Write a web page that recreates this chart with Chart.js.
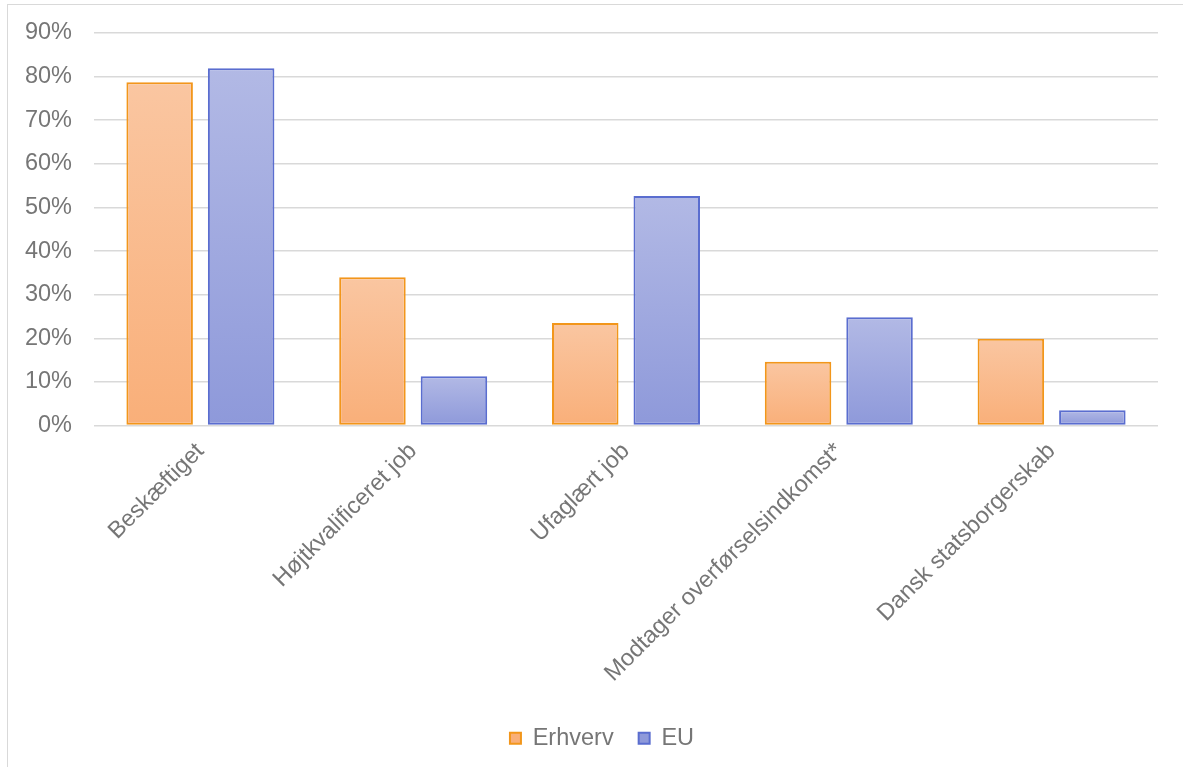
<!DOCTYPE html>
<html>
<head>
<meta charset="utf-8">
<script src="https://cdn.jsdelivr.net/npm/chart.js@4/dist/chart.umd.min.js"></script>
<style>
    html, body { margin: 0; padding: 0; background: #fff; }
    #wrap { position: relative; width: 1183px; height: 767px; overflow: hidden; }
    #frame {
        position: absolute; left: 7px; top: 4px; width: 1300px; height: 900px;
        border: 1px solid #d9d9d9; pointer-events: none;
    }
</style>
</head>
<body>
<div id="wrap">
    <canvas id="chart" width="1183" height="767"></canvas>
    <div id="frame"></div>
</div>
<script>
/*
  Erhverv vs EU – andele
*/

const categories = [
    "Beskæftiget",
    "Højtkvalificeret job",
    "Ufaglært job",
    "Modtager overførselsindkomst*",
    "Dansk statsborgerskab"
]

const erhvervValues = [0.787, 0.340, 0.235, 0.146, 0.199]

const euValues = [0.819, 0.113, 0.526, 0.248, 0.035]

const yTicks = [0, 0.1, 0.2, 0.3, 0.4, 0.5, 0.6, 0.7, 0.8, 0.9]

function barGradient(topColor, bottomColor, solid) {

    return (ctx) => {

        const chart = ctx.chart

        if (ctx.type !== "data" || !chart.scales || !chart.scales.y) {
            return solid
        }

        const y = chart.scales.y
        const top = y.getPixelForValue(ctx.parsed.y)
        const base = y.getPixelForValue(0)

        if (!isFinite(top) || !isFinite(base) || top === base) {
            return solid
        }

        const g = chart.ctx.createLinearGradient(0, top, 0, base)
        g.addColorStop(0, topColor)
        g.addColorStop(1, bottomColor)
        return g
    }
}

// legend sits centred under the plot area, not the whole canvas
const legendShift = {
    id: "legendShift",
    afterUpdate(chart) {
        const legend = chart.legend
        if (!legend) {
            return
        }
        legend.left += 23
        legend.right += 23
        legend.adjustHitBoxes()
    }
}

const font = { family: "'Liberation Sans', Arial, sans-serif", size: 23.5 }
const textColor = "#767676"

new Chart(document.getElementById("chart"), {

    type: "bar",

    data: {
        labels: categories,
        datasets: [
            {
                label: "Erhverv",
                data: erhvervValues,
                borderColor: "#F2961B",
                borderWidth: 2,
                borderSkipped: false,
                backgroundColor: barGradient("#FAC6A1", "#F9AF79", "#FAC3A0")
            },
            {
                label: "EU",
                data: euValues,
                borderColor: "#5A6DCF",
                borderWidth: 2,
                borderSkipped: false,
                backgroundColor: barGradient("#B2B9E5", "#8E99DA", "#A6AEE2")
            }
        ]
    },

    plugins: [legendShift],

    options: {
        responsive: false,
        animation: false,
        categoryPercentage: 0.766,
        barPercentage: 0.816,
        layout: {
            padding: { top: 33, right: 25, bottom: 7, left: 0 }
        },
        plugins: {
            legend: {
                position: "bottom",
                labels: {
                    font: font,
                    color: textColor,
                    boxWidth: 11,
                    boxHeight: 11,
                    padding: 25,
                    useBorderRadius: false
                }
            },
            tooltip: { enabled: false }
        },
        scales: {
            x: {
                grid: { display: false },
                border: { display: false },
                ticks: {
                    font: font,
                    color: textColor,
                    minRotation: 45,
                    maxRotation: 45,
                    padding: 4
                },
                afterFit(scale) {
                    scale.height = 276
                }
            },
            y: {
                min: 0,
                max: 0.9,
                afterBuildTicks(scale) {
                    scale.ticks = yTicks.map(v => ({ value: v }))
                },
                afterFit(scale) {
                    scale.width = 94
                    scale.paddingTop = 0
                    scale.paddingBottom = 0
                },
                grid: {
                    color: "#d9d9d9",
                    lineWidth: 1.5,
                    drawTicks: false
                },
                border: { display: false },
                ticks: {
                    font: font,
                    color: textColor,
                    padding: 22,
                    callback: v => Math.round(v * 100) + "%"
                }
            }
        }
    }
})
</script>
</body>
</html>
